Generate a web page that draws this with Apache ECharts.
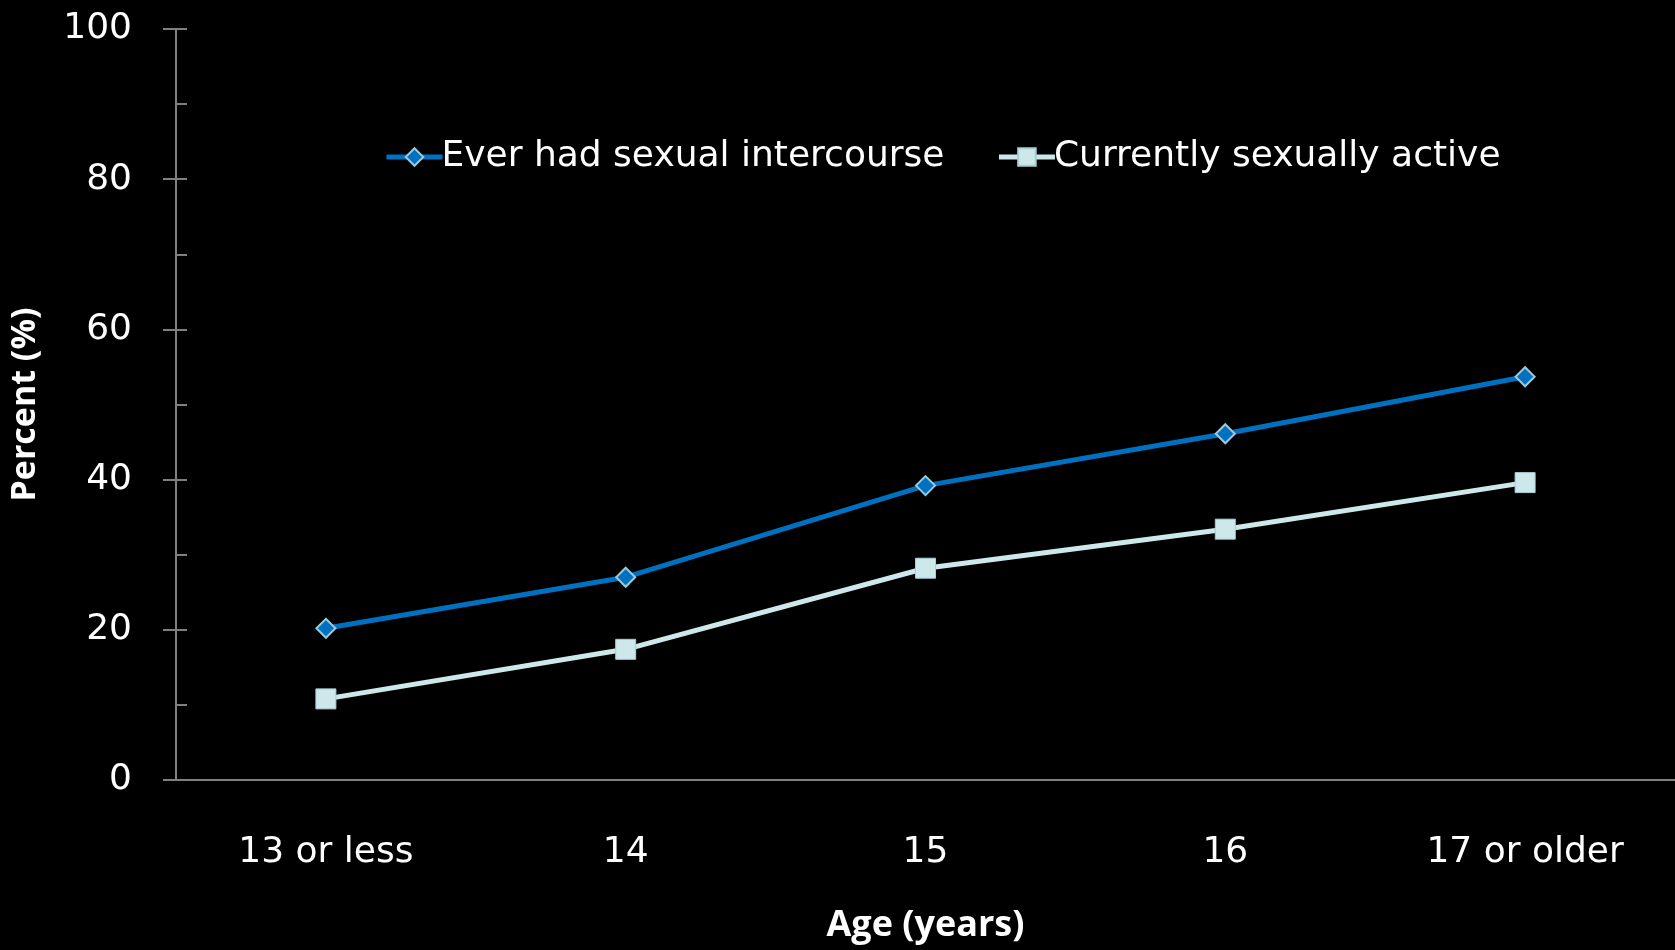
<!DOCTYPE html>
<html><head><meta charset="utf-8">
<script src="https://cdn.jsdelivr.net/npm/echarts@6/dist/echarts.min.js"></script>
<style>html,body{margin:0;padding:0;background:#000;}#c{width:1675px;height:950px;}</style>
</head><body><div id="c"></div>
<script>
const categories = ['13 or less', '14', '15', '16', '17 or older'];
const everHad = [20.2, 27.0, 39.2, 46.1, 53.7];
const currentlyActive = [10.8, 17.4, 28.2, 33.4, 39.6];
const seriesNames = ['Ever had sexual intercourse', 'Currently sexually active'];
const yTicks = [0, 20, 40, 60, 80, 100];

const FONT = '"DejaVu Sans", sans-serif';
const chart = echarts.init(document.getElementById('c'));
chart.setOption({
  backgroundColor: '#000',
  animation: false,
  grid: { left: 175, right: 0, top: 29, bottom: 170, containLabel: false },
  legend: {
    top: 134, left: 379, itemGap: 52, itemWidth: 56, itemHeight: 22,
    lineStyle: { width: 5 },
    textStyle: { color: '#fff', fontSize: 36, fontFamily: FONT, padding: [0,0,0,-6] },
    data: seriesNames
  },
  xAxis: {
    type: 'category', data: categories, boundaryGap: true,
    axisLine: { lineStyle: { color: '#808080', width: 2 } },
    axisTick: { show: false },
    axisLabel: { color: '#fff', fontSize: 36, fontFamily: FONT, margin: 55 },
    name: 'Age (years)', nameLocation: 'middle', nameGap: 128,
    nameTextStyle: { color: '#fff', fontSize: 36, fontWeight: 'bold', fontFamily: '"Open Sans", sans-serif' }
  },
  yAxis: [{
    type: 'value', min: 0, max: 100, interval: 20,
    axisLine: { show: true, lineStyle: { color: '#808080', width: 2 } },
    axisTick: { show: true, length: 13, lineStyle: { color: '#808080', width: 2 } },
    splitLine: { show: false },
    axisLabel: { color: '#fff', fontSize: 36, fontFamily: FONT, margin: 44,
      formatter: v => yTicks.includes(v) ? String(v) : '' },
    name: 'Percent (%)', nameLocation: 'middle', nameGap: 134, nameRotate: 90,
    nameTextStyle: { color: '#fff', fontSize: 34, fontWeight: 'bold', fontFamily: '"Open Sans", sans-serif' }
  }, {
    type: 'value', min: 0, max: 100, interval: 10, position: 'left',
    axisLine: { show: false },
    axisTick: { show: true, inside: true, length: 11, lineStyle: { color: '#808080', width: 2 } },
    axisLabel: { show: false }, splitLine: { show: false }
  }],
  series: [{
    name: seriesNames[0], type: 'line', data: everHad,
    lineStyle: { color: '#0070C0', width: 5 },
    itemStyle: { color: '#0070C0', borderColor: '#9CC8DA', borderWidth: 2 },
    symbol: 'diamond', symbolSize: 19
  }, {
    name: seriesNames[1], type: 'line', data: currentlyActive,
    lineStyle: { color: '#CCE8EB', width: 5 },
    itemStyle: { color: '#CCE8EB', borderColor: '#A8CDD3', borderWidth: 1 },
    symbol: 'rect', symbolSize: 20
  }]
});
</script></body></html>
